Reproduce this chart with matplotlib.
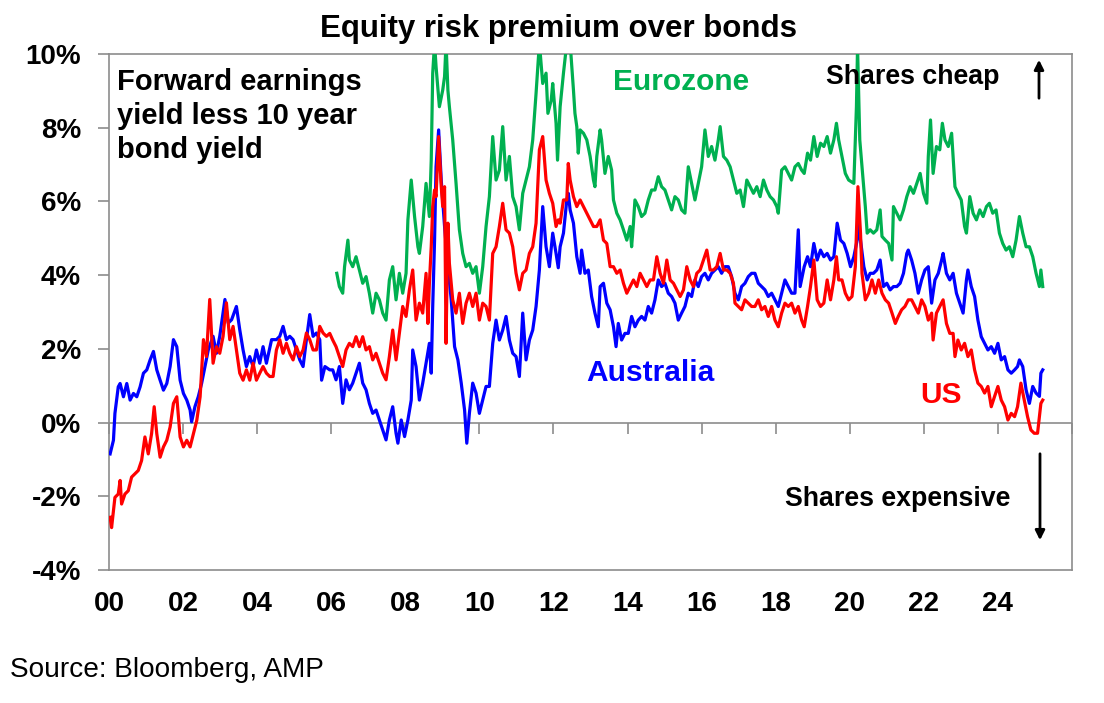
import matplotlib
matplotlib.use("Agg")
import matplotlib.pyplot as plt
from matplotlib.patches import FancyArrowPatch

plt.rcParams['font.family'] = ['Liberation Sans', 'DejaVu Sans']

# ---------------- data (decimal year, % points) ----------------
au_years = [
    2000.03, 2000.12, 2000.16, 2000.25, 2000.30, 2000.39, 2000.48, 2000.57, 2000.66, 2000.75,
    2000.84, 2000.93, 2001.02, 2001.11, 2001.20, 2001.29, 2001.38, 2001.47, 2001.56, 2001.65,
    2001.74, 2001.83, 2001.92, 2002.01, 2002.10, 2002.19, 2002.23, 2002.32, 2002.41, 2002.50,
    2002.59, 2002.68, 2002.81, 2002.90, 2002.99, 2003.13, 2003.22, 2003.31, 2003.44, 2003.53,
    2003.62, 2003.71, 2003.80, 2003.89, 2003.98, 2004.07, 2004.16, 2004.25, 2004.39, 2004.52,
    2004.61, 2004.70, 2004.79, 2004.88, 2004.97, 2005.06, 2005.15, 2005.24, 2005.33, 2005.42,
    2005.51, 2005.60, 2005.69, 2005.74, 2005.83, 2005.96,
    2006.04, 2006.13, 2006.22, 2006.31, 2006.40, 2006.49, 2006.58, 2006.67, 2006.76, 2006.85,
    2006.94, 2007.03, 2007.12, 2007.21, 2007.30, 2007.39, 2007.48, 2007.57, 2007.66, 2007.75,
    2007.80, 2007.89, 2007.98, 2008.07, 2008.16, 2008.20, 2008.29, 2008.38, 2008.47, 2008.56,
    2008.65, 2008.70, 2008.74, 2008.79, 2008.83, 2008.90, 2008.97, 2009.06, 2009.15, 2009.24,
    2009.33, 2009.42, 2009.51, 2009.60, 2009.66, 2009.73, 2009.82, 2009.91, 2010.00, 2010.09,
    2010.18, 2010.27, 2010.36, 2010.45, 2010.54, 2010.63, 2010.72, 2010.81, 2010.90, 2010.99,
    2011.08, 2011.17, 2011.26, 2011.35, 2011.44, 2011.53, 2011.62, 2011.71, 2011.80, 2011.89,
    2011.98, 2012.07, 2012.13,
    2012.18, 2012.27, 2012.36, 2012.40, 2012.45, 2012.54, 2012.63, 2012.72, 2012.76, 2012.85,
    2012.94, 2013.03, 2013.12, 2013.21, 2013.26, 2013.35, 2013.44, 2013.53, 2013.62, 2013.69,
    2013.75, 2013.84, 2013.93, 2014.02, 2014.11, 2014.20, 2014.29, 2014.38, 2014.47, 2014.56,
    2014.65, 2014.74, 2014.83, 2014.92, 2015.01, 2015.10, 2015.19, 2015.28, 2015.37, 2015.46,
    2015.55, 2015.64, 2015.73, 2015.82, 2015.91, 2016.00, 2016.09, 2016.18, 2016.27, 2016.36,
    2016.45, 2016.54, 2016.63, 2016.72, 2016.81, 2016.90, 2016.99, 2017.08, 2017.17, 2017.26,
    2017.35, 2017.44, 2017.53, 2017.62, 2017.71, 2017.80, 2017.89, 2017.98, 2018.07, 2018.16,
    2018.25, 2018.34, 2018.43, 2018.52, 2018.61, 2018.66,
    2018.77, 2018.86, 2018.94, 2019.03, 2019.12, 2019.21, 2019.30, 2019.39, 2019.48, 2019.57,
    2019.66, 2019.75, 2019.84, 2019.93, 2020.02, 2020.11, 2020.20, 2020.24, 2020.29, 2020.38,
    2020.47, 2020.55, 2020.64, 2020.73, 2020.82, 2020.91, 2021.00, 2021.09, 2021.18, 2021.27,
    2021.36, 2021.45, 2021.54, 2021.58, 2021.67, 2021.76, 2021.85, 2021.94, 2022.03, 2022.12,
    2022.21, 2022.30, 2022.39, 2022.48, 2022.52, 2022.61, 2022.70, 2022.79, 2022.88, 2022.97,
    2023.06, 2023.15, 2023.19, 2023.28, 2023.37, 2023.46, 2023.55, 2023.64, 2023.73, 2023.82,
    2023.91, 2024.00, 2024.09, 2024.18, 2024.27, 2024.36, 2024.45, 2024.53, 2024.58, 2024.67,
    2024.76, 2024.85, 2024.94, 2025.03, 2025.12, 2025.16, 2025.21,
]
au_values = [
    -0.85, -0.48, 0.25, 0.97, 1.06, 0.70, 1.06, 0.61, 0.79, 0.70,
    0.97, 1.34, 1.43, 1.70, 1.93, 1.43, 1.15, 0.88, 1.06, 1.52,
    2.25, 2.06, 1.15, 0.79, 0.61, 0.34, 0.02, 0.43, 0.70, 1.06,
    1.52, 1.97, 2.34, 1.88, 2.34, 3.34, 2.70, 2.79, 3.15, 2.52,
    1.97, 1.52, 1.79, 1.52, 1.97, 1.61, 2.06, 1.61, 2.25, 2.25,
    2.34, 2.61, 2.25, 2.34, 2.25, 1.97, 1.70, 1.52, 2.25, 2.93,
    2.34, 2.43, 2.25, 1.15, 1.52, 1.43,
    1.43, 1.16, 1.52, 0.52, 1.16, 0.89, 1.07, 1.34, 1.61, 1.07,
    0.89, 0.52, 0.25, 0.34, 0.07, -0.20, -0.47, 0.07, 0.43, -0.29,
    -0.56, 0.07, -0.38, 0.07, 0.61, 1.97, 1.52, 0.61, 1.07, 1.61,
    2.15, 1.34, 3.15, 4.95, 6.94, 7.94, 6.58, 5.32, 4.23, 3.33,
    2.06, 1.70, 1.07, 0.34, -0.56, 0.25, 1.07, 0.80, 0.25, 0.61,
    0.98, 0.98, 2.15, 2.78, 2.24, 2.51, 2.88, 2.24, 1.88, 1.79,
    1.25, 2.97, 1.70, 2.24, 2.51, 3.15, 4.14, 5.86, 4.77, 4.23,
    5.14, 4.59, 4.20,
    4.77, 5.14, 6.04, 6.22, 5.77, 5.41, 4.50, 4.05, 4.68, 4.05,
    4.14, 3.42, 2.97, 2.60, 3.69, 3.78, 3.24, 3.06, 2.60, 2.06,
    2.69, 2.24, 2.42, 2.42, 2.88, 2.60, 2.78, 2.88, 2.78, 3.15,
    2.97, 3.33, 3.87, 3.69, 3.78, 3.51, 3.42, 3.24, 2.78, 2.97,
    3.15, 3.51, 3.42, 3.87, 3.69, 3.96, 4.05, 3.87, 4.05, 4.14,
    4.23, 4.05, 4.23, 4.23, 3.96, 3.51, 3.33, 3.69, 3.78, 3.96,
    4.05, 4.05, 3.78, 3.69, 3.60, 3.42, 3.51, 3.33, 3.15, 3.51,
    3.87, 3.69, 3.51, 3.51, 5.23, 3.69,
    4.23, 4.50, 4.23, 4.86, 4.41, 4.68, 4.50, 4.59, 4.41, 4.50,
    5.41, 4.95, 4.86, 4.59, 4.23, 4.50, 4.95, 5.50, 4.95, 4.23,
    3.87, 4.05, 4.05, 4.14, 4.41, 3.69, 3.78, 3.60, 3.69, 3.69,
    3.78, 4.05, 4.59, 4.68, 4.41, 4.05, 3.51, 3.87, 4.14, 4.23,
    3.24, 3.87, 4.05, 4.41, 4.59, 4.05, 3.87, 4.05, 3.51, 3.24,
    2.97, 3.87, 4.14, 3.69, 3.42, 2.78, 2.33, 2.15, 1.97, 2.06,
    1.88, 2.15, 1.70, 1.79, 1.43, 1.34, 1.43, 1.52, 1.70, 1.52,
    0.89, 0.52, 0.98, 0.80, 0.71, 1.34, 1.43,
]

us_years = [
    2000.03, 2000.07, 2000.16, 2000.25, 2000.30, 2000.34, 2000.43, 2000.52, 2000.61, 2000.70,
    2000.79, 2000.88, 2000.97, 2001.06, 2001.15, 2001.22, 2001.29, 2001.38, 2001.47, 2001.56,
    2001.65, 2001.74, 2001.83, 2001.92, 2002.01, 2002.10, 2002.19, 2002.28, 2002.37, 2002.46,
    2002.55, 2002.63, 2002.72, 2002.81, 2002.90, 2002.99, 2003.08, 2003.17, 2003.26, 2003.35,
    2003.44, 2003.53, 2003.62, 2003.71, 2003.80, 2003.89, 2003.98, 2004.07, 2004.16, 2004.25,
    2004.34, 2004.43, 2004.52, 2004.61, 2004.70, 2004.79, 2004.88, 2004.97, 2005.06, 2005.15,
    2005.24, 2005.33, 2005.42, 2005.51, 2005.60, 2005.69, 2005.78, 2005.87, 2005.96,
    2006.04, 2006.13, 2006.22, 2006.31, 2006.40, 2006.49, 2006.58, 2006.67, 2006.76, 2006.85,
    2006.94, 2007.03, 2007.12, 2007.21, 2007.30, 2007.39, 2007.48, 2007.57, 2007.66, 2007.75,
    2007.84, 2007.93, 2008.02, 2008.11, 2008.20, 2008.29, 2008.38, 2008.47, 2008.56, 2008.61,
    2008.65, 2008.70, 2008.74, 2008.79, 2008.83, 2008.90, 2008.97, 2009.01, 2009.06, 2009.10,
    2009.15, 2009.19, 2009.28, 2009.37, 2009.46, 2009.55, 2009.64, 2009.73, 2009.82, 2009.91,
    2010.00, 2010.09, 2010.18, 2010.27, 2010.36, 2010.45, 2010.54, 2010.63, 2010.72, 2010.81,
    2010.90, 2010.99, 2011.08, 2011.17, 2011.26, 2011.35, 2011.44, 2011.53, 2011.62, 2011.71,
    2011.80, 2011.89, 2011.98, 2012.07, 2012.13,
    2012.18, 2012.27, 2012.36, 2012.40, 2012.45, 2012.54, 2012.63, 2012.72, 2012.81, 2012.90,
    2012.99, 2013.08, 2013.17, 2013.26, 2013.35, 2013.44, 2013.53, 2013.62, 2013.71, 2013.80,
    2013.89, 2013.98, 2014.07, 2014.16, 2014.25, 2014.34, 2014.43, 2014.52, 2014.61, 2014.70,
    2014.79, 2014.88, 2014.97, 2015.06, 2015.15, 2015.24, 2015.33, 2015.42, 2015.51, 2015.60,
    2015.69, 2015.78, 2015.87, 2015.96, 2016.05, 2016.14, 2016.23, 2016.32, 2016.41, 2016.50,
    2016.59, 2016.68, 2016.77, 2016.86, 2016.90, 2016.99, 2017.08, 2017.17, 2017.26, 2017.35,
    2017.44, 2017.53, 2017.62, 2017.71, 2017.80, 2017.89, 2017.98, 2018.07, 2018.16, 2018.25,
    2018.34, 2018.43, 2018.52, 2018.61, 2018.70,
    2018.77, 2018.86, 2018.94, 2019.03, 2019.12, 2019.21, 2019.30, 2019.39, 2019.48, 2019.57,
    2019.64, 2019.70, 2019.79, 2019.88, 2019.97, 2020.06, 2020.15, 2020.22, 2020.29, 2020.33,
    2020.42, 2020.51, 2020.60, 2020.69, 2020.78, 2020.87, 2020.96, 2021.05, 2021.14, 2021.23,
    2021.31, 2021.40, 2021.49, 2021.58, 2021.67, 2021.76, 2021.85, 2021.94, 2022.03, 2022.12,
    2022.21, 2022.25, 2022.34, 2022.43, 2022.52, 2022.61, 2022.70, 2022.79, 2022.84, 2022.92,
    2023.01, 2023.10, 2023.19, 2023.28, 2023.37, 2023.46, 2023.55, 2023.64, 2023.73, 2023.82,
    2023.91, 2024.00, 2024.09, 2024.18, 2024.27, 2024.36, 2024.45, 2024.53, 2024.62, 2024.71,
    2024.80, 2024.89, 2024.98, 2025.07, 2025.12, 2025.16, 2025.21,
]
us_values = [
    -2.57, -2.85, -2.03, -1.94, -1.57, -2.21, -1.94, -1.85, -1.48, -1.39,
    -1.30, -1.03, -0.39, -0.85, -0.30, 0.43, -0.30, -0.94, -0.66, -0.48,
    -0.12, 0.52, 0.70, -0.39, -0.66, -0.48, -0.66, -0.30, 0.06, 0.70,
    2.25, 1.79, 3.34, 1.61, 2.06, 1.88, 2.34, 3.25, 2.25, 2.61,
    1.97, 1.34, 1.15, 1.43, 1.15, 1.61, 1.15, 1.34, 1.52, 1.34,
    1.25, 1.25, 1.97, 2.25, 1.88, 2.15, 1.88, 1.70, 2.06, 1.79,
    1.97, 2.43, 2.25, 1.97, 1.97, 2.61, 2.43, 2.34, 2.42,
    2.24, 2.06, 1.79, 1.52, 1.97, 2.15, 2.06, 2.33, 2.06, 2.33,
    1.97, 2.06, 1.70, 1.88, 1.61, 1.34, 1.16, 1.79, 2.51, 1.70,
    2.42, 3.15, 2.88, 3.60, 4.14, 2.78, 3.24, 2.97, 4.05, 2.69,
    3.78, 4.77, 5.86, 6.31, 6.13, 7.76, 6.40, 5.86, 6.40, 2.15,
    5.41, 4.32, 3.33, 2.97, 3.51, 2.69, 3.24, 3.51, 3.15, 3.51,
    2.78, 3.24, 3.15, 2.78, 4.59, 4.77, 5.32, 5.95, 5.23, 5.14,
    4.77, 4.05, 3.60, 4.05, 4.14, 4.59, 4.77, 5.41, 7.40, 7.76,
    6.58, 6.22, 5.95, 5.32, 5.50,
    5.41, 6.04, 6.04, 7.03, 6.58, 6.13, 5.86, 6.04, 5.86, 5.68,
    5.50, 5.32, 5.32, 5.50, 4.95, 4.86, 4.23, 4.23, 4.05, 4.14,
    3.78, 3.51, 3.69, 3.87, 3.69, 4.05, 3.87, 3.69, 3.87, 3.87,
    4.50, 4.05, 3.78, 4.41, 3.87, 3.78, 3.60, 3.42, 3.60, 4.23,
    3.87, 3.69, 4.05, 4.14, 4.41, 4.68, 4.14, 4.14, 4.23, 4.59,
    4.14, 4.14, 4.05, 3.78, 3.24, 3.15, 3.06, 3.33, 3.24, 3.15,
    3.15, 3.33, 3.06, 3.15, 2.88, 3.15, 2.78, 2.60, 2.97, 3.24,
    3.15, 3.24, 2.97, 3.15, 2.78,
    2.60, 3.15, 3.69, 4.41, 3.33, 3.15, 3.24, 3.87, 3.33, 3.87,
    4.50, 3.87, 3.87, 3.51, 3.33, 3.42, 4.23, 6.40, 5.14, 4.05,
    3.33, 3.51, 3.87, 3.51, 3.87, 3.51, 3.33, 3.24, 2.97, 2.69,
    2.88, 3.06, 3.15, 3.33, 3.33, 3.15, 2.97, 3.33, 3.15, 2.78,
    2.97, 2.24, 2.97, 3.15, 3.33, 2.69, 2.42, 2.42, 1.79, 2.24,
    1.97, 2.15, 1.79, 1.97, 1.43, 1.07, 0.98, 0.80, 0.98, 0.43,
    0.71, 0.98, 0.61, 0.43, 0.07, 0.25, 0.16, 0.43, 1.07, 0.61,
    0.16, -0.20, -0.29, -0.29, 0.16, 0.52, 0.61,
]

ez_years = [
    2006.15, 2006.22, 2006.31, 2006.36, 2006.45, 2006.49, 2006.58, 2006.67, 2006.76, 2006.85,
    2006.94, 2007.03, 2007.12, 2007.21, 2007.30, 2007.39, 2007.48, 2007.57, 2007.66, 2007.75,
    2007.84, 2007.93, 2008.02, 2008.07, 2008.16, 2008.25, 2008.34, 2008.38, 2008.47, 2008.56,
    2008.65, 2008.70, 2008.74, 2008.79, 2008.83, 2008.92, 2009.01, 2009.06, 2009.10, 2009.15,
    2009.19, 2009.28, 2009.37, 2009.46, 2009.55, 2009.64, 2009.73, 2009.82, 2009.91, 2010.00,
    2010.09, 2010.18, 2010.27, 2010.36, 2010.45, 2010.54, 2010.63, 2010.72, 2010.81, 2010.90,
    2010.99, 2011.08, 2011.17, 2011.26, 2011.35, 2011.44, 2011.53, 2011.62, 2011.71, 2011.80,
    2011.85, 2011.94, 2011.98, 2012.07, 2012.11,
    2012.18, 2012.27, 2012.36, 2012.45, 2012.54, 2012.58, 2012.63, 2012.67, 2012.72, 2012.81,
    2012.90, 2012.99, 2013.08, 2013.12, 2013.17, 2013.26, 2013.30, 2013.39, 2013.48, 2013.57,
    2013.62, 2013.71, 2013.80, 2013.89, 2013.98, 2014.07, 2014.11, 2014.16, 2014.20, 2014.29,
    2014.38, 2014.47, 2014.56, 2014.65, 2014.74, 2014.83, 2014.92, 2015.01, 2015.10, 2015.19,
    2015.28, 2015.37, 2015.46, 2015.55, 2015.64, 2015.73, 2015.82, 2015.91, 2016.00, 2016.09,
    2016.18, 2016.27, 2016.36, 2016.45, 2016.50, 2016.59, 2016.68, 2016.77, 2016.86, 2016.95,
    2017.04, 2017.13, 2017.22, 2017.31, 2017.40, 2017.49, 2017.58, 2017.67, 2017.76, 2017.85,
    2017.94, 2018.03, 2018.07, 2018.16, 2018.25, 2018.34, 2018.43, 2018.52, 2018.61, 2018.70,
    2018.77, 2018.86, 2018.94, 2019.03, 2019.12, 2019.21, 2019.30, 2019.39, 2019.48, 2019.57,
    2019.64, 2019.70, 2019.79, 2019.88, 2019.97, 2020.11, 2020.18, 2020.21, 2020.27, 2020.33,
    2020.42, 2020.47, 2020.55, 2020.64, 2020.73, 2020.82, 2020.87, 2020.96, 2021.05, 2021.14,
    2021.18, 2021.27, 2021.36, 2021.45, 2021.54, 2021.63, 2021.72, 2021.81, 2021.90, 2021.99,
    2022.08, 2022.12, 2022.18, 2022.25, 2022.34, 2022.43, 2022.50, 2022.57, 2022.66, 2022.75,
    2022.84, 2022.92, 2023.01, 2023.10, 2023.15, 2023.24, 2023.33, 2023.42, 2023.51, 2023.60,
    2023.69, 2023.77, 2023.86, 2023.95, 2024.04, 2024.13, 2024.22, 2024.31, 2024.40, 2024.49,
    2024.58, 2024.67, 2024.76, 2024.85, 2024.94, 2025.03, 2025.12, 2025.16, 2025.21,
]
ez_values = [
    4.05, 3.69, 3.51, 4.23, 4.95, 4.41, 4.23, 4.50, 4.14, 3.78,
    3.96, 3.51, 2.97, 3.51, 3.33, 2.97, 2.78, 3.87, 4.23, 3.33,
    4.05, 3.51, 4.05, 5.50, 6.58, 5.59, 4.77, 4.59, 5.32, 6.49,
    5.59, 7.12, 9.48, 10.3, 9.66, 8.57, 9.02, 9.39, 10.3, 9.02,
    8.57, 7.67, 6.49, 5.23, 4.59, 4.23, 4.32, 4.05, 4.23, 3.51,
    4.23, 5.32, 6.13, 7.76, 6.58, 6.85, 8.03, 6.58, 7.22, 6.13,
    5.86, 5.23, 6.22, 6.58, 6.94, 7.67, 8.93, 10.3, 9.20, 9.48,
    8.39, 8.75, 9.20, 8.12, 7.12,
    8.57, 9.48, 10.3, 10.3, 9.02, 8.39, 8.03, 7.31, 7.94, 7.85,
    7.67, 7.22, 6.58, 6.40, 7.22, 7.94, 7.67, 6.76, 7.22, 6.85,
    6.04, 5.68, 5.50, 5.23, 4.95, 5.32, 4.77, 5.41, 6.04, 5.86,
    5.59, 5.68, 6.04, 6.31, 6.31, 6.67, 6.40, 6.31, 6.04, 5.77,
    6.13, 6.04, 5.77, 5.68, 6.94, 6.49, 6.04, 6.49, 6.94, 7.94,
    7.22, 7.49, 7.12, 7.67, 8.03, 7.22, 7.12, 6.94, 6.58, 6.22,
    6.31, 5.86, 6.58, 6.40, 6.22, 6.40, 6.13, 6.58, 6.31, 6.13,
    6.04, 5.86, 5.68, 6.85, 6.94, 6.76, 6.58, 6.94, 7.03, 6.85,
    6.76, 7.31, 7.12, 7.76, 7.22, 7.58, 7.49, 7.76, 7.31, 7.67,
    8.12, 7.67, 7.22, 6.76, 6.58, 6.49, 8.57, 10.2, 7.67, 6.94,
    5.86, 5.14, 5.23, 5.14, 5.23, 5.77, 5.05, 4.95, 4.86, 4.41,
    5.86, 5.68, 5.50, 5.77, 6.13, 6.40, 6.22, 6.49, 6.76, 6.22,
    5.95, 7.22, 8.21, 6.76, 7.49, 7.40, 8.12, 7.67, 7.49, 7.85,
    6.40, 6.22, 6.04, 5.32, 5.14, 6.13, 5.68, 5.50, 5.77, 5.59,
    5.86, 5.95, 5.68, 5.77, 5.14, 4.86, 4.68, 4.77, 4.50, 4.95,
    5.59, 5.14, 4.77, 4.77, 4.50, 4.05, 3.69, 4.14, 3.69,
]

x_ticks = list(range(2000, 2027, 2))
x_labels = ['00', '02', '04', '06', '08', '10', '12', '14', '16', '18', '20', '22', '24', '']
y_ticks = [-4, -2, 0, 2, 4, 6, 8, 10]
y_labels = ['-4%', '-2%', '0%', '2%', '4%', '6%', '8%', '10%']

# ---------------- figure ----------------
W, H = 1104, 703
fig = plt.figure(figsize=(W / 100, H / 100), dpi=100)
ax = fig.add_axes([109 / W, 1 - 570 / H, (1072 - 109) / W, (570 - 54) / H])

GRAY = '#8c8c8c'
ax.set_xlim(2000, 2026)
ax.set_ylim(-4, 10)

lw = 2.3
ax.plot(ez_years, ez_values, color='#00B050', lw=lw, zorder=3)
ax.plot(au_years, au_values, color='#0000FF', lw=lw, zorder=4)
ax.plot(us_years, us_values, color='#FF0000', lw=lw, zorder=5)

# zero line with tick marks pointing down
ax.axhline(0, color=GRAY, lw=1.2, zorder=2)
ax.plot(x_ticks, [0] * len(x_ticks), linestyle='none', marker=3,
        markersize=8, markeredgewidth=1.2, color=GRAY, zorder=2, clip_on=False)

for s in ax.spines.values():
    s.set_color(GRAY)
    s.set_linewidth(1.2)

ax.set_xticks(x_ticks)
ax.set_xticklabels(x_labels, fontsize=20, fontweight='bold')
ax.tick_params(axis='x', length=0, pad=15)
ax.set_yticks(y_ticks)
ax.set_yticklabels(y_labels, fontsize=20, fontweight='bold')
ax.tick_params(axis='y', length=8, width=1.2, color=GRAY, pad=12)

# ---------------- texts ----------------
def fx(px):
    return px / W

def fy(py):
    return 1 - py / H

fig.text(fx(558), fy(29), 'Equity risk premium over bonds', ha='center', va='center',
         fontsize=22.5, fontweight='bold')
fig.text(fx(117), fy(68), 'Forward earnings\nyield less 10 year\nbond yield', ha='left', va='top',
         fontsize=21, fontweight='bold', linespacing=1.27)
fig.text(fx(681), fy(82), 'Eurozone', ha='center', va='center', fontsize=21.5,
         fontweight='bold', color='#00B050')
fig.text(fx(650), fy(373), 'Australia', ha='center', va='center', fontsize=21.5,
         fontweight='bold', color='#0000FF')
fig.text(fx(941), fy(395), 'US', ha='center', va='center', fontsize=21.5,
         fontweight='bold', color='#FF0000')
fig.text(fx(913), fy(77), 'Shares cheap', ha='center', va='center', fontsize=19.3,
         fontweight='bold')
fig.text(fx(898), fy(499), 'Shares expensive', ha='center', va='center', fontsize=19.3,
         fontweight='bold')
fig.text(fx(10), fy(670), 'Source: Bloomberg, AMP', ha='left', va='center', fontsize=20.2)

fig.add_artist(FancyArrowPatch(
    (fx(1039), fy(101)), (fx(1039), fy(57)), transform=fig.transFigure,
    arrowstyle='-|>', mutation_scale=14, lw=2, color='black'))
fig.add_artist(FancyArrowPatch(
    (fx(1040), fy(451)), (fx(1040), fy(543)), transform=fig.transFigure,
    arrowstyle='-|>', mutation_scale=14, lw=2, color='black'))

fig.savefig('out.png', dpi=100)
